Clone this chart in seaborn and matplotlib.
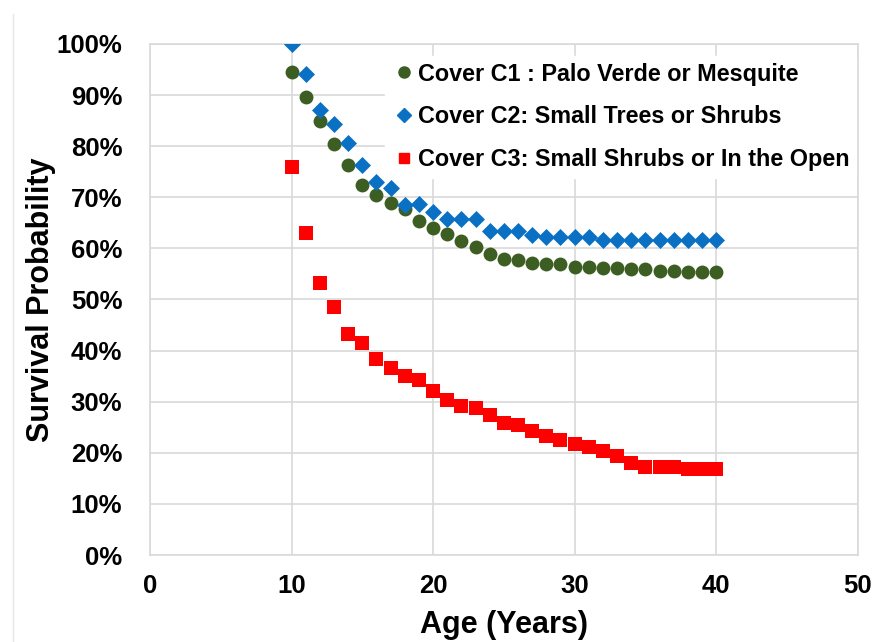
import pandas as pd
import matplotlib.pyplot as plt
import seaborn as sns
from matplotlib.ticker import PercentFormatter, MultipleLocator
from matplotlib.lines import Line2D

sns.set_theme(style='whitegrid')
plt.rcParams['font.family'] = ['Liberation Sans', 'DejaVu Sans']
plt.rcParams['text.color'] = 'black'
plt.rcParams['axes.labelcolor'] = 'black'
plt.rcParams['xtick.color'] = 'black'
plt.rcParams['ytick.color'] = 'black'

# Data (survival probability, %)
age = list(range(10, 41))

cover_c1 = [94.5, 89.6, 85.0, 80.4, 76.4, 72.5, 70.4, 68.8, 67.7, 65.3,
            63.9, 62.9, 61.5, 60.3, 59.0, 57.9, 57.7, 57.1, 56.9, 56.9,
            56.4, 56.3, 56.1, 56.1, 55.9, 55.9, 55.6, 55.6, 55.4, 55.4, 55.4]
cover_c2 = [100.0, 94.1, 87.1, 84.3, 80.6, 76.3, 72.9, 71.8, 68.5, 68.7,
            67.2, 65.8, 65.8, 65.8, 63.4, 63.4, 63.4, 62.6, 62.2, 62.2,
            62.2, 62.2, 61.6, 61.6, 61.6, 61.6, 61.6, 61.6, 61.6, 61.6, 61.6]
cover_c3 = [76.0, 63.0, 53.3, 48.6, 43.2, 41.5, 38.3, 36.5, 35.0, 34.2,
            32.0, 30.3, 29.2, 28.8, 27.4, 25.8, 25.4, 24.3, 23.3, 22.6,
            21.8, 21.1, 20.4, 19.4, 18.1, 17.3, 17.3, 17.3, 16.8, 16.8, 16.8]

labels = ['Cover C1 : Palo Verde or Mesquite',
          'Cover C2: Small Trees or Shrubs',
          'Cover C3: Small Shrubs or In the Open']

df = pd.DataFrame({
    'age': age * 3,
    'survival': cover_c1 + cover_c2 + cover_c3,
    'cover': [labels[0]] * len(age) + [labels[1]] * len(age) + [labels[2]] * len(age),
})

palette = {labels[0]: '#3d5e22', labels[1]: '#0a70c4', labels[2]: '#ff0000'}
markers = {labels[0]: 'o', labels[1]: 'D', labels[2]: 's'}
sizes = {labels[0]: 100, labels[1]: 75, labels[2]: 95}

fig = plt.figure(figsize=(8.77, 6.42), dpi=100)
ax = fig.add_axes([0.171, 0.1355, 0.807, 0.796])

handles = []
for lab in labels:
    sub = df[df['cover'] == lab]
    sns.scatterplot(data=sub, x='age', y='survival', color=palette[lab],
                    marker=markers[lab], s=sizes[lab], linewidth=0, ax=ax,
                    zorder=3)
    handles.append(Line2D([], [], linestyle='none', marker=markers[lab],
                          color=palette[lab],
                          markersize=8 if markers[lab] == 'o' else 7))

ax.set_xlim(0, 50)
ax.set_ylim(0, 100)
ax.xaxis.set_major_locator(MultipleLocator(10))
ax.yaxis.set_major_locator(MultipleLocator(10))
ax.yaxis.set_major_formatter(PercentFormatter(100, decimals=0))

ax.grid(True, color='#d9d9d9', linewidth=1.2)
for sp in ax.spines.values():
    sp.set_color('#d9d9d9')
    sp.set_linewidth(1.2)
ax.tick_params(length=0, labelsize=18.5)
ax.tick_params(axis='y', pad=20)
ax.tick_params(axis='x', pad=14)
for t in ax.get_xticklabels() + ax.get_yticklabels():
    t.set_fontweight('bold')

ax.set_xlabel('Age (Years)', fontsize=22, fontweight='bold', labelpad=8)
ax.set_ylabel('Survival Probability', fontsize=22, fontweight='bold', labelpad=0)

leg = ax.legend(handles, labels, loc='upper left', bbox_to_anchor=(0.316, 1.0),
                frameon=True, facecolor='white', edgecolor='white', framealpha=1,
                prop={'weight': 'bold', 'size': 16.8}, handletextpad=0.1,
                handlelength=1.0, labelspacing=0.85, borderpad=0.3)
leg.set_zorder(2.4)

fig.add_artist(Line2D([13 / 877, 13 / 877], [0, 1 - 14 / 642],
                      transform=fig.transFigure, color='#e6e6e6', linewidth=1))

plt.savefig('out.png', dpi=100)
